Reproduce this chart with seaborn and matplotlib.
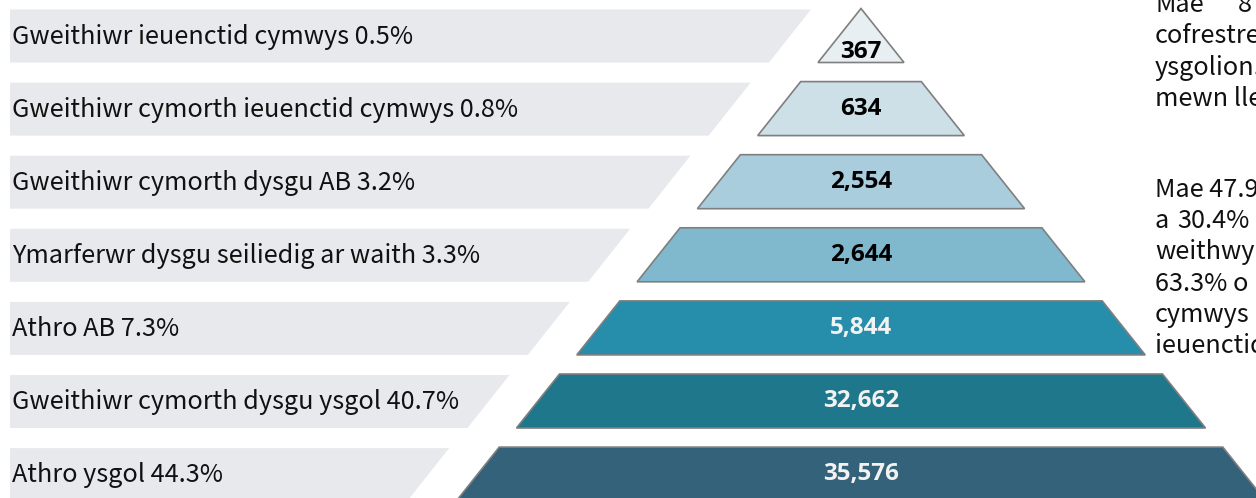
import matplotlib
matplotlib.use("Agg")
import matplotlib.pyplot as plt
import seaborn as sns
from matplotlib.patches import Polygon

# ---- data ----
categories = [
    "Gweithiwr ieuenctid cymwys",
    "Gweithiwr cymorth ieuenctid cymwys",
    "Gweithiwr cymorth dysgu AB",
    "Ymarferwr dysgu seiliedig ar waith",
    "Athro AB",
    "Gweithiwr cymorth dysgu ysgol",
    "Athro ysgol",
]
shares = [0.5, 0.8, 3.2, 3.3, 7.3, 40.7, 44.3]
counts = [367, 634, 2554, 2644, 5844, 32662, 35576]
tier_colors = ["#E8EFF3", "#CDDFE7", "#A9CDDD", "#80B9CE", "#268DAB", "#1F778C", "#33627A"]
number_colors = ["#000000", "#000000", "#000000", "#000000", "#F2F2F2", "#F2F2F2", "#F2F2F2"]
side_lines = ["Mae", "cofrestre", "ysgolion.", "mewn lle",
              "Mae 47.9", "a", "weithwyr", "63.3% o", "cymwys", "ieuenctid"]
side_slots = [0, 1, 2, 3, 5.9, 6.9, 7.9, 8.9, 9.9, 10.9]

sns.set_theme(style="white")
label_font = ["Noto Sans CJK SC", "DejaVu Sans"]
num_font = ["Open Sans", "DejaVu Sans"]
plt.rcParams["font.family"] = label_font

W, H = 1256, 498
fig = plt.figure(figsize=(W / 100, H / 100), dpi=100)
ax = fig.add_axes([0, 0, 1, 1])
ax.set_xlim(0, W)
ax.set_ylim(H, 0)
ax.axis("off")

cx = 861.0
pitch = 73.1
row_h = 54.0
step = 60.3
slant = 43.0
fs = 18.2

for i, (cat, sh, n) in enumerate(zip(categories, shares, counts)):
    top = 8.5 + pitch * i
    bot = top + row_h
    ht = step * i
    hb = ht + slant
    # label banner
    br_top = cx - ht - 50
    br_bot = br_top - 42
    ax.add_patch(Polygon([(10, top + 1), (br_top, top + 1), (br_bot, bot), (10, bot)],
                         closed=True, facecolor="#E7E9EC", edgecolor="none", zorder=1))
    ax.text(12, (top + bot) / 2 + 1, f"{cat} {sh}%", fontsize=fs, color="#111111",
            family=label_font, ha="left", va="center", zorder=3)
    # pyramid tier
    ax.add_patch(Polygon([(cx - ht, top), (cx + ht, top), (cx + hb, bot), (cx - hb, bot)],
                         closed=True, facecolor=tier_colors[i], edgecolor="#7F7F7F",
                         linewidth=1.2, joinstyle="miter", zorder=2))
    ty = bot - 11 if i == 0 else (top + bot) / 2
    ax.text(cx, ty, f"{n:,}", fontsize=17.5, fontweight="bold", color=number_colors[i],
            family=num_font, ha="center", va="center", zorder=3)

side_pitch = 31.3
for line, k in zip(side_lines, side_slots):
    ax.text(1155, 5 + side_pitch * k, line, fontsize=fs, color="#111111", family=label_font,
            ha="left", va="center", zorder=3)
ax.text(1238, 5, "8", fontsize=fs, color="#111111", family=label_font,
        ha="left", va="center", zorder=3)
ax.text(1177, 5 + side_pitch * side_slots[5], "30.4%", fontsize=fs, color="#111111",
        family=label_font, ha="left", va="center", zorder=3)

fig.savefig("out.png", dpi=100)
